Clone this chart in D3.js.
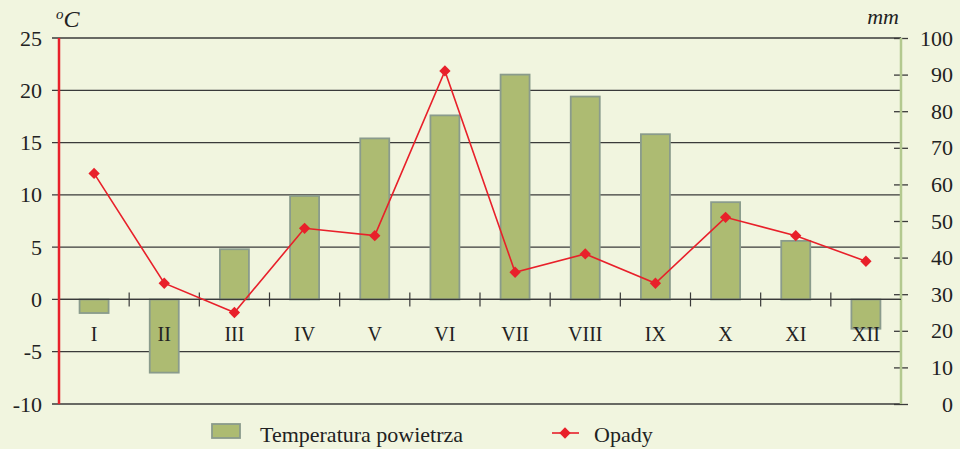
<!DOCTYPE html>
<html>
<head>
<meta charset="utf-8">
<script src="https://cdn.jsdelivr.net/npm/d3@7"></script>
<style>
  body { margin: 0; background: #f1f5df; }
  svg { display: block; }
  text { font-family: "Liberation Serif", "DejaVu Serif", serif; fill: #222; }
</style>
</head>
<body>
<div id="chart"></div>
<script>
// months, temperature (°C) and precipitation (mm)
var months = ['I','II','III','IV','V','VI','VII','VIII','IX','X','XI','XII'];
var temperature = [-1.3, -7.0, 4.8, 9.9, 15.4, 17.6, 21.5, 19.4, 15.8, 9.3, 5.6, -2.8];
var precipitation = [63, 33, 25, 48, 46, 91, 36, 41, 33, 51, 46, 39];
var tempTicks = [-10, -5, 0, 5, 10, 15, 20, 25];
var precTicks = [0, 10, 20, 30, 40, 50, 60, 70, 80, 90, 100];

var width = 960, height = 449;
var plotLeft = 59, plotRight = 901, plotTop = 38, plotBottom = 404;
var serif = '"Liberation Serif", "DejaVu Serif", serif';

var svg = d3.select('#chart').append('svg')
  .attr('width', width)
  .attr('height', height);

svg.append('rect').attr('width', width).attr('height', height).attr('fill', '#f1f5df');

var x = d3.scaleBand().domain(months).range([plotLeft, plotRight]);
var yT = d3.scaleLinear().domain([-10, 25]).range([plotBottom, plotTop]);
var yP = d3.scaleLinear().domain([0, 100]).range([plotBottom, plotTop]);

// gridlines
svg.append('g').selectAll('line')
  .data(tempTicks)
  .enter().append('line')
  .attr('x1', plotLeft - 7)
  .attr('x2', plotRight)
  .attr('y1', function(d) { return yT(d); })
  .attr('y2', function(d) { return yT(d); })
  .attr('stroke', '#3a3a3a')
  .attr('stroke-width', 1.3);

// left axis labels
var axL = svg.append('g')
  .attr('transform', 'translate(' + plotLeft + ',0)')
  .call(d3.axisLeft(yT).tickValues(tempTicks).tickSize(0).tickPadding(17)
    .tickFormat(function(d) { return String(d); }));
axL.attr('font-family', serif).attr('font-size', 22);
axL.select('.domain').remove();
axL.selectAll('text').attr('fill', '#222');

// right axis
var axR = svg.append('g')
  .attr('transform', 'translate(' + plotRight + ',0)')
  .call(d3.axisRight(yP).tickValues(precTicks).tickSize(7).tickPadding(0)
    .tickFormat(function(d) { return String(d); }));
axR.attr('font-family', serif).attr('font-size', 22);
axR.select('.domain').remove();
axR.selectAll('.tick line').attr('x1', -7).attr('stroke', '#3a3a3a').attr('stroke-width', 1.3);
axR.selectAll('text')
  .attr('text-anchor', 'end')
  .attr('x', 52)
  .attr('fill', '#222');

svg.append('line')
  .attr('x1', plotRight).attr('x2', plotRight)
  .attr('y1', plotTop).attr('y2', plotBottom)
  .attr('stroke', '#b3c98f').attr('stroke-width', 2.5);

// bars
var barW = 29;
svg.append('g').selectAll('rect')
  .data(months)
  .enter().append('rect')
  .attr('x', function(d) { return x(d) + x.bandwidth() / 2 - barW / 2; })
  .attr('y', function(d, i) { return yT(Math.max(0, temperature[i])); })
  .attr('width', barW)
  .attr('height', function(d, i) { return Math.abs(yT(temperature[i]) - yT(0)); })
  .attr('fill', '#adbb72')
  .attr('stroke', '#8a9b8c')
  .attr('stroke-width', 1.8);

// zero line redrawn over bars + ticks at band boundaries
svg.append('line')
  .attr('x1', plotLeft).attr('x2', plotRight)
  .attr('y1', yT(0)).attr('y2', yT(0))
  .attr('stroke', '#3a3a3a').attr('stroke-width', 1.3);
svg.append('g').selectAll('line')
  .data(months)
  .enter().append('line')
  .attr('x1', function(d) { return x(d); })
  .attr('x2', function(d) { return x(d); })
  .attr('y1', yT(0) - 7)
  .attr('y2', yT(0) + 7)
  .attr('stroke', '#3a3a3a').attr('stroke-width', 1.2);

// month labels
svg.append('g').selectAll('text')
  .data(months)
  .enter().append('text')
  .attr('x', function(d) { return x(d) + x.bandwidth() / 2; })
  .attr('y', yT(0) + 42)
  .attr('text-anchor', 'middle')
  .style('font-size', '20px')
  .text(function(d) { return d; });

// left red axis
svg.append('line')
  .attr('x1', plotLeft).attr('x2', plotLeft)
  .attr('y1', plotTop).attr('y2', plotBottom)
  .attr('stroke', '#e8202a').attr('stroke-width', 2.5);

// precipitation line
var line = d3.line()
  .x(function(d, i) { return x(months[i]) + x.bandwidth() / 2; })
  .y(function(d) { return yP(d); });
svg.append('path')
  .datum(precipitation)
  .attr('d', line)
  .attr('fill', 'none')
  .attr('stroke', '#e8202a')
  .attr('stroke-width', 1.6);

var diamond = d3.symbol().type(d3.symbolSquare).size(64);
svg.append('g').selectAll('path')
  .data(precipitation)
  .enter().append('path')
  .attr('d', diamond)
  .attr('transform', function(d, i) { return 'translate(' + (x(months[i]) + x.bandwidth() / 2) + ',' + yP(d) + ') rotate(45)'; })
  .attr('fill', '#e8202a');

// unit labels
var unitC = svg.append('text').attr('x', 56).attr('y', 27).style('font-size', '24px').style('font-style', 'italic');
unitC.append('tspan').text('o').style('font-size', '15px').attr('dy', -8);
unitC.append('tspan').text('C').attr('dy', 8);
svg.append('text').attr('x', 899).attr('y', 24).attr('text-anchor', 'end')
  .style('font-size', '22px').style('font-style', 'italic').text('mm');

// legend
svg.append('rect')
  .attr('x', 212).attr('y', 424).attr('width', 28).attr('height', 14)
  .attr('fill', '#adbb72').attr('stroke', '#8a9b8c').attr('stroke-width', 1.8);
svg.append('text').attr('x', 260).attr('y', 442).style('font-size', '22px').text('Temperatura powietrza');
svg.append('line')
  .attr('x1', 552).attr('x2', 579).attr('y1', 433).attr('y2', 433)
  .attr('stroke', '#e8202a').attr('stroke-width', 1.6);
svg.append('path').attr('d', diamond).attr('transform', 'translate(565,433) rotate(45)').attr('fill', '#e8202a');
svg.append('text').attr('x', 594).attr('y', 442).style('font-size', '22px').text('Opady');
</script>
</body>
</html>
